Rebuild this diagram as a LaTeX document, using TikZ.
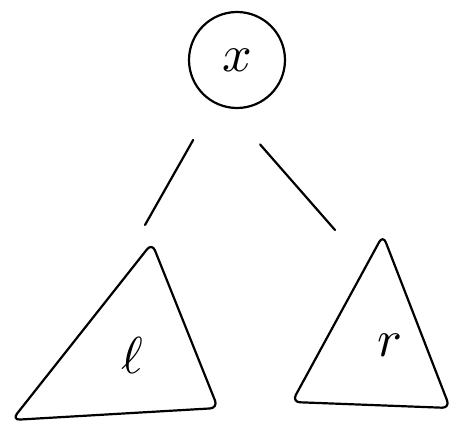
\documentclass[tikz,border=0pt]{standalone}
\usetikzlibrary{positioning}
\tikzset{
	hand/.style = {line width = 2.2pt, line cap = round, line join = round},
	big/.style = {scale = 5.2}
}
\begin{document}
\begin{tikzpicture}[x = 1pt, y = -1pt]
		\useasboundingbox (0,0) rectangle (456,427);
		\node [hand, draw, circle, minimum size = 96pt] (x) at (237,60) {};
		\node [big] (xl) at (x) {$x$};
		% subtrees
		\coordinate (lt) at (152,243);
		\coordinate (lb) at (12,420);
		\coordinate (lr) at (218,408);
		\coordinate (rt) at (383,235);
		\coordinate (rb) at (292,402);
		\coordinate (rr) at (450,408);
		\draw [hand, rounded corners = 8pt] (lt) -- (lr) -- (lb) -- cycle;
		\draw [hand, rounded corners = 8pt] (rt) -- (rr) -- (rb) -- cycle;
		\node [big] (l) at (132,355) {$\ell$};
		\node [big] (r) at (390,345) {$r$};
		% edges
		\coordinate (le) at (145,225);
		\coordinate (re) at (335,230);
		\draw [hand, shorten <= 42pt] (x.242) -- (le);
		\draw [hand, shorten <= 48pt] (x.-100) -- (re);
	\end{tikzpicture}
\end{document}
